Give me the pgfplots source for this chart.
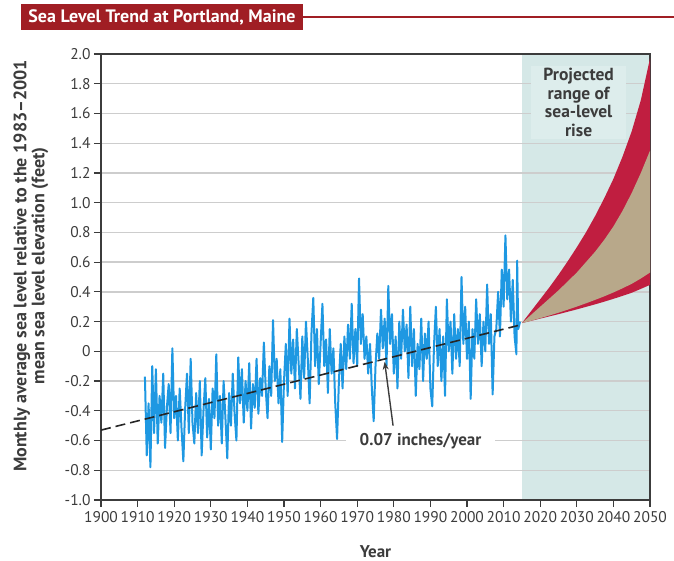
\documentclass[border=0pt]{standalone}
\usepackage{fontspec}
\setmainfont{PT Sans}
\usepackage{graphicx}
\usepackage{pgfplots}
\pgfplotsset{compat=1.18}
\usetikzlibrary{arrows.meta}
\definecolor{banner}{RGB}{160,30,36}
\definecolor{sea}{RGB}{30,152,226}
\definecolor{proj}{RGB}{213,232,231}
\definecolor{projbox}{RGB}{221,237,236}
\definecolor{crim}{RGB}{192,30,64}
\definecolor{tanc}{RGB}{184,168,138}
\definecolor{framec}{RGB}{60,60,60}
\definecolor{txt}{RGB}{60,60,60}
\definecolor{gridc}{RGB}{205,205,205}

\begin{document}
\begin{tikzpicture}
\path[use as bounding box] (0pt,0pt) rectangle (674pt,561pt);
% title banner
\draw[banner, line width=2pt] (300pt,544pt) -- (674pt,544pt);
\fill[banner] (21pt,531pt) rectangle (303pt,557pt);
\node[text=white, font=\bfseries\fontsize{18}{19}\selectfont] at (162pt,544pt) {Sea Level Trend at Portland, Maine};

% background axis: projection period shading
\begin{axis}[
  at={(101pt,61pt)}, anchor=south west,
  scale only axis, width=549pt, height=446pt,
  xmin=1900, xmax=2050, ymin=-1, ymax=2,
  hide axis,
]
\addplot[fill=proj, draw=none] coordinates {(2015,-1)(2015,2)(2050,2)(2050,-1)} -- cycle;
\end{axis}

\begin{axis}[
  at={(101pt,61pt)}, anchor=south west,
  scale only axis, width=549pt, height=446pt,
  xmin=1900, xmax=2050, ymin=-1, ymax=2,
  xtick={1900,1910,1920,1930,1940,1950,1960,1970,1980,1990,2000,2010,2020,2030,2040,2050},
  xticklabels={1900,1910,1920,1930,1940,1950,1960,1970,1980,1990,2000,2010,2020,2030,2040,2050},
  ytick={-1,-0.8,-0.6,-0.4,-0.2,0,0.2,0.4,0.6,0.8,1,1.2,1.4,1.6,1.8,2},
  yticklabels={-1.0,-0.8,-0.6,-0.4,-0.2,0,0.2,0.4,0.6,0.8,1.0,1.2,1.4,1.6,1.8,2.0},
  xtick pos=bottom, ytick pos=left,
  tick align=outside, major tick length=7pt,
  tick style={framec, line width=1.2pt},
  axis line style={framec, line width=1.8pt},
  ymajorgrids, grid style={gridc, line width=1.3pt},
  ticklabel style={font=\fontsize{15.5}{17}\selectfont, text=txt},
  xticklabel style={yshift=-1pt},
  xlabel={Year},
  xlabel style={at={(axis description cs:0.5,-0.1166)}, anchor=center, font=\bfseries\fontsize{17}{19}\selectfont, text=txt},
  ylabel={Monthly average sea level relative to the 1983--2001\\mean sea level elevation (feet)},
  ylabel style={at={(axis description cs:-0.1275,0.525)}, anchor=center, align=center, font=\bfseries\fontsize{18}{18}\selectfont, text=txt},
]
% projected range
\addplot[fill=crim, draw=none] coordinates {
(2015,0.19)(2017.5,0.27)(2020,0.35)(2022.5,0.43)(2025,0.515)(2027.5,0.605)(2030,0.70)(2032.5,0.80)(2035,0.91)(2037.5,1.03)(2040,1.16)(2042.5,1.31)(2045,1.48)(2047.5,1.69)(2050,1.97)
(2050,0.447)(2047.5,0.42)(2045,0.394)(2042.5,0.373)(2040,0.353)(2037.5,0.334)(2035,0.316)(2032.5,0.299)(2030,0.282)(2027.5,0.266)(2025,0.25)(2022.5,0.235)(2020,0.22)(2017.5,0.205)} -- cycle;
\addplot[fill=tanc, draw=none] coordinates {
(2015,0.19)(2017.5,0.245)(2020,0.30)(2022.5,0.355)(2025,0.41)(2027.5,0.47)(2030,0.53)(2032.5,0.60)(2035,0.67)(2037.5,0.75)(2040,0.84)(2042.5,0.945)(2045,1.065)(2047.5,1.20)(2050,1.35)
(2050,0.53)(2047.5,0.49)(2045,0.454)(2042.5,0.424)(2040,0.396)(2037.5,0.37)(2035,0.346)(2032.5,0.323)(2030,0.301)(2027.5,0.28)(2025,0.26)(2022.5,0.241)(2020,0.223)(2017.5,0.206)} -- cycle;

% monthly sea level
\addplot[sea, line width=2pt, line join=round] coordinates {
(1912.0,-0.17)(1912.5,-0.70)(1913.0,-0.35)(1913.5,-0.78)(1914.0,-0.10)(1914.5,-0.55)(1915.0,-0.12)(1915.5,-0.62)(1916.0,-0.30)(1916.5,-0.48)
(1917.0,-0.15)(1917.5,-0.65)(1918.0,-0.38)(1918.5,-0.22)(1919.0,-0.55)(1919.5,0.02)(1920.0,-0.45)(1920.5,-0.30)
(1921.0,-0.60)(1921.5,-0.25)(1922.0,-0.52)(1922.5,-0.74)(1923.0,-0.38)(1923.5,-0.15)(1924.0,-0.55)(1924.5,-0.05)(1925.0,-0.48)(1925.5,-0.62)
(1926.0,-0.28)(1926.5,-0.55)(1927.0,-0.20)(1927.5,-0.70)(1928.0,-0.40)(1928.5,-0.18)(1929.0,-0.58)(1929.5,-0.32)(1930.0,-0.66)(1930.5,-0.25)
(1931.0,-0.45)(1931.5,-0.02)(1932.0,-0.50)(1932.5,-0.30)(1933.0,-0.62)(1933.5,-0.20)(1934.0,-0.45)(1934.5,-0.72)(1935.0,-0.28)(1935.5,-0.50)
(1936.0,-0.15)(1936.5,-0.42)(1937.0,-0.60)(1937.5,-0.04)(1938.0,-0.35)(1938.5,-0.12)(1939.0,-0.48)(1939.5,-0.20)(1940.0,-0.40)(1940.5,-0.08)
(1941.0,-0.52)(1941.5,-0.22)(1942.0,-0.38)(1942.5,-0.05)(1943.0,-0.42)(1943.5,-0.18)(1944.0,-0.30)(1944.5,0.06)(1945.0,-0.25)(1945.5,-0.45)
(1946.0,-0.10)(1946.5,-0.30)(1947.0,0.21)(1947.5,-0.20)(1948.0,-0.05)(1948.5,-0.35)(1949.0,-0.12)(1949.5,-0.61)(1950.0,-0.20)(1950.5,0.05)
(1951.0,-0.30)(1951.5,0.22)(1952.0,-0.15)(1952.5,0.08)(1953.0,-0.25)(1953.5,0.15)(1954.0,-0.08)(1954.5,-0.32)(1955.0,0.10)(1955.5,-0.18)
(1956.0,0.20)(1956.5,-0.05)(1957.0,-0.35)(1957.5,0.12)(1958.0,0.36)(1958.5,-0.10)(1959.0,0.15)(1959.5,-0.22)(1960.0,0.05)(1960.5,0.32)
(1961.0,-0.10)(1961.5,0.08)(1962.0,-0.28)(1962.5,0.15)(1963.0,-0.15)(1963.5,0.02)(1964.0,-0.35)(1964.5,-0.59)(1965.0,-0.20)(1965.5,0.05)
(1966.0,-0.25)(1966.5,0.10)(1967.0,-0.12)(1967.5,0.18)(1968.0,-0.05)(1968.5,0.32)(1969.0,-0.08)(1969.5,0.15)(1970.0,-0.10)(1970.5,0.49)
(1971.0,0.05)(1971.5,0.25)(1972.0,-0.05)(1972.5,0.10)(1973.0,-0.15)(1973.5,0.05)(1974.0,-0.25)(1974.5,-0.47)(1975.0,-0.10)(1975.5,0.12)
(1976.0,-0.05)(1976.5,0.28)(1977.0,0.02)(1977.5,0.22)(1978.0,-0.10)(1978.5,0.44)(1979.0,0.05)(1979.5,0.25)(1980.0,-0.15)(1980.5,0.10)
(1981.0,-0.25)(1981.5,0.20)(1982.0,-0.05)(1982.5,0.28)(1983.0,0.00)(1983.5,0.18)(1984.0,-0.18)(1984.5,0.30)(1985.0,-0.10)(1985.5,0.15)
(1986.0,-0.30)(1986.5,0.05)(1987.0,-0.12)(1987.5,0.22)(1988.0,-0.20)(1988.5,0.12)(1989.0,-0.05)(1989.5,0.20)(1990.0,-0.25)(1990.5,-0.37)
(1991.0,0.05)(1991.5,0.30)(1992.0,-0.10)(1992.5,0.15)(1993.0,-0.20)(1993.5,0.10)(1994.0,-0.30)(1994.5,0.35)(1995.0,0.00)(1995.5,0.20)
(1996.0,-0.15)(1996.5,0.25)(1997.0,-0.05)(1997.5,0.15)(1998.0,-0.10)(1998.5,0.50)(1999.0,0.05)(1999.5,0.30)(2000.0,-0.05)(2000.5,0.20)
(2001.0,-0.32)(2001.5,0.15)(2002.0,-0.05)(2002.5,0.35)(2003.0,0.05)(2003.5,0.25)(2004.0,-0.10)(2004.5,0.20)(2005.0,0.00)(2005.5,0.45)
(2006.0,0.05)(2006.5,0.25)(2007.0,-0.29)(2007.5,0.10)(2008.0,0.15)(2008.5,0.40)(2009.0,0.10)(2009.5,0.55)(2010.0,0.30)(2010.5,0.78)
(2011.0,0.35)(2011.5,0.55)(2012.0,0.20)(2012.5,0.48)(2013.0,0.10)(2013.5,-0.02)(2013.7,0.61)(2014.0,0.15)(2014.5,0.20)};

% trend
\addplot[black!85, line width=1.6pt, dash pattern=on 10pt off 5pt] coordinates {(1900,-0.53)(2015,0.18)};

% annotations
\node[fill=white, inner xsep=14pt, inner ysep=2pt, text=txt, font=\bfseries\fontsize{17}{19}\selectfont] at (axis cs:1987.3,-0.605) {0.07 inches/year};
\draw[txt, line width=1.4pt, -{Stealth[length=8pt,width=6pt]}] (axis cs:1979.8,-0.50) -- (axis cs:1977.5,-0.07);
\node[fill=projbox, align=center, text=txt, minimum width=95pt, minimum height=73pt, inner sep=2pt, font=\bfseries\fontsize{17.5}{18.5}\selectfont] at (axis cs:2030.5,1.675) {Projected\\range of\\sea-level\\rise};
\end{axis}
\end{tikzpicture}
\end{document}
